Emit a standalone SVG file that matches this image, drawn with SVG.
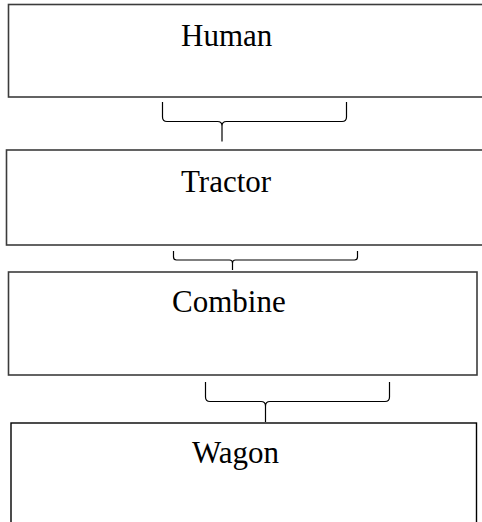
<svg xmlns="http://www.w3.org/2000/svg" width="482" height="522" viewBox="0 0 482 522">
<style>
.box{fill:#fff;stroke:#3c3c3c;stroke-width:1.6}
.box2{fill:#fff;stroke:#000;stroke-width:1.4}
.lbl{font-family:"Liberation Serif","Times New Roman",serif;font-size:31px;fill:#000}
.br{fill:none;stroke:#000;stroke-width:1.2}
</style>
<rect width="482" height="522" fill="#fff"/>
<g id="human">
<rect class="box" x="8.5" y="4.5" width="480" height="92.5"/>
<text class="lbl" x="181" y="46">Human</text>
</g>
<g id="tractor">
<rect class="box" x="6.5" y="150" width="480" height="95"/>
<text class="lbl" x="181" y="192">Tractor</text>
</g>
<g id="combine">
<rect class="box" x="8.5" y="272" width="468.5" height="103"/>
<text class="lbl" x="172" y="312">Combine</text>
</g>
<g id="wagon">
<rect class="box2" x="11" y="423" width="465.5" height="110"/>
<text class="lbl" x="192" y="463">Wagon</text>
</g>
<g id="connectors">
<path class="br" d="M162.5,102 V117 Q162.5,121.5 167,121.5 H217.5 Q222,121.5 222,126 V141.5 M222,126 Q222,121.5 226.5,121.5 H342 Q346.5,121.5 346.5,117 V102"/>
<path class="br" d="M173.5,251 V257 Q173.5,260 176.5,260 H229.5 Q232.5,260 232.5,263 V270 M232.5,263 Q232.5,260 235.5,260 H354.5 Q357.5,260 357.5,257 V251"/>
<path class="br" d="M205.5,382 V397 Q205.5,401.5 210,401.5 H261 Q265.5,401.5 265.5,406 V422 M265.5,406 Q265.5,401.5 270,401.5 H385 Q389.5,401.5 389.5,397 V382"/>
</g>
</svg>
